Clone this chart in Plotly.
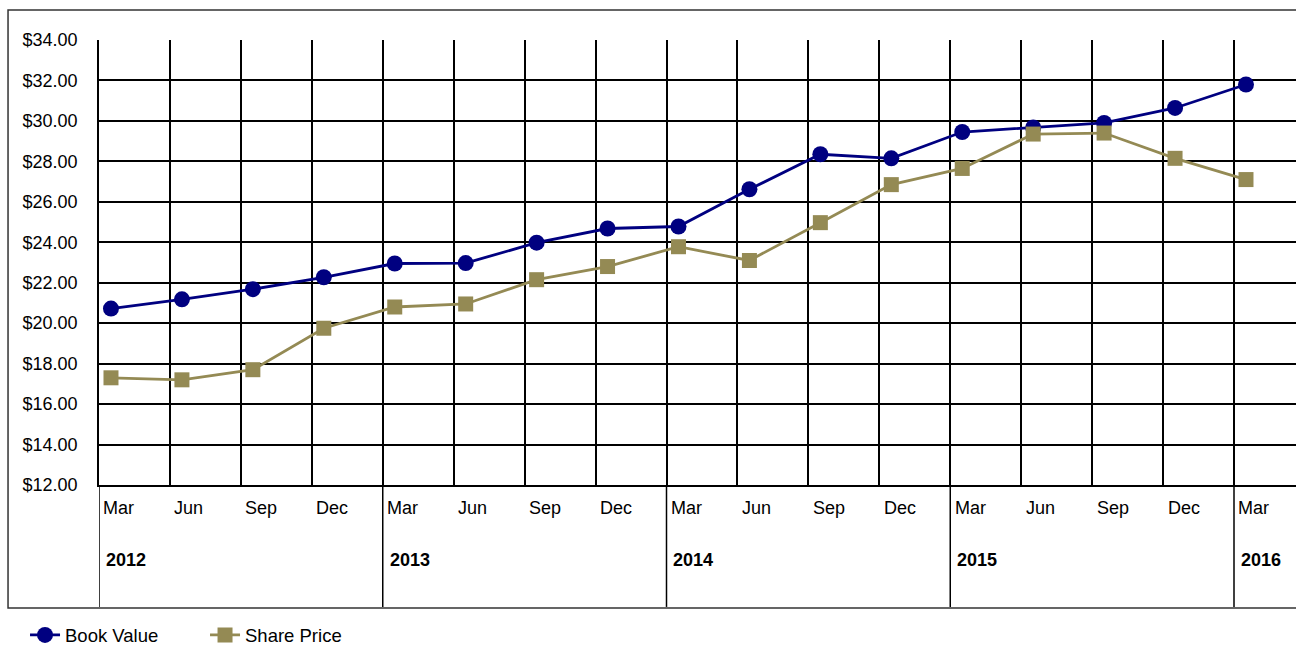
import plotly.graph_objects as go

months = ["Mar", "Jun", "Sep", "Dec"] * 4 + ["Mar"]
years = ["2012", "2013", "2014", "2015", "2016"]
book_value = [20.72, 21.18, 21.68, 22.27, 22.95, 22.97, 23.98, 24.68, 24.78, 26.62,
              28.35, 28.15, 29.45, 29.68, 29.9, 30.64, 31.8]
share_price = [17.3, 17.2, 17.7, 19.75, 20.8, 20.95, 22.15, 22.8, 23.78, 23.1,
               24.97, 26.85, 27.65, 29.35, 29.4, 28.15, 27.1]

FONT = "Liberation Sans, Arial, sans-serif"
FS = 18
OFF = 0.169  # category boundary offset from the point position
idx = list(range(len(months)))

fig = go.Figure()
fig.add_trace(go.Scatter(
    x=idx, y=book_value, name="Book Value", mode="lines+markers",
    line=dict(color="#000080", width=2.8),
    marker=dict(symbol="circle", size=16, color="#000080"),
))
fig.add_trace(go.Scatter(
    x=idx, y=share_price, name="Share Price", mode="lines+markers",
    line=dict(color="#948A54", width=2.8),
    marker=dict(symbol="square", size=15, color="#948A54"),
))

boundaries = [i - OFF for i in idx]

# month labels
for i, m in enumerate(months):
    fig.add_annotation(x=boundaries[i] + 0.035, y=-0.052, xref="x", yref="paper",
                       text=m, showarrow=False, xanchor="left", yanchor="middle",
                       font=dict(family=FONT, size=FS, color="black"))
# year labels and separators
for k, yr in enumerate(years):
    b = boundaries[4 * k]
    fig.add_annotation(x=b + 0.07, y=-0.169, xref="x", yref="paper",
                       text="<b>" + yr + "</b>", showarrow=False, xanchor="left",
                       yanchor="middle", font=dict(family=FONT, size=FS, color="black"))
    fig.add_shape(type="line", xref="x", yref="paper", x0=b, x1=b, y0=0, y1=-0.274,
                  line=dict(color="black", width=1.5))

# outer border
fig.add_shape(type="rect", xref="paper", yref="paper", x0=-0.076, x1=1.02,
              y0=-0.2764, y1=1.0674, line=dict(color="#333333", width=1.5))

fig.update_layout(
    width=1296, height=647,
    margin=dict(l=99, r=0, t=40, b=162, autoexpand=False),
    paper_bgcolor="white", plot_bgcolor="white",
    font=dict(family=FONT, size=FS, color="black"),
    showlegend=True,
    legend=dict(orientation="h", x=-0.0618, y=-0.338, xanchor="left", yanchor="middle",
                font=dict(family=FONT, size=18.5, color="black"),
                entrywidth=135, entrywidthmode="pixels", itemwidth=30,
                bgcolor="rgba(0,0,0,0)"),
    xaxis=dict(range=[-OFF, 16.705], tickvals=boundaries, showticklabels=False,
               showgrid=True, gridcolor="black", gridwidth=1.5,
               showline=True, linecolor="black", linewidth=1.5,
               zeroline=False, ticks=""),
    yaxis=dict(range=[12, 34], dtick=2, tick0=12, tickformat="$.2f",
               showgrid=True, gridcolor="black", gridwidth=1.5,
               showline=True, linecolor="black", linewidth=1.5,
               zeroline=False, ticks="", ticklabelstandoff=16,
               tickfont=dict(family=FONT, size=FS, color="black")),
)

post = (
    "document.documentElement.style.margin='0';"
    "document.body.style.margin='0';"
    "document.documentElement.style.overflow='hidden';"
    "document.body.style.overflow='hidden';"
    "var d=document.getElementById('{plot_id}');"
    "d.style.position='fixed';d.style.left='0px';d.style.top='0px';"
)
fig.write_html("out.html", config={"displayModeBar": False}, post_script=post)
